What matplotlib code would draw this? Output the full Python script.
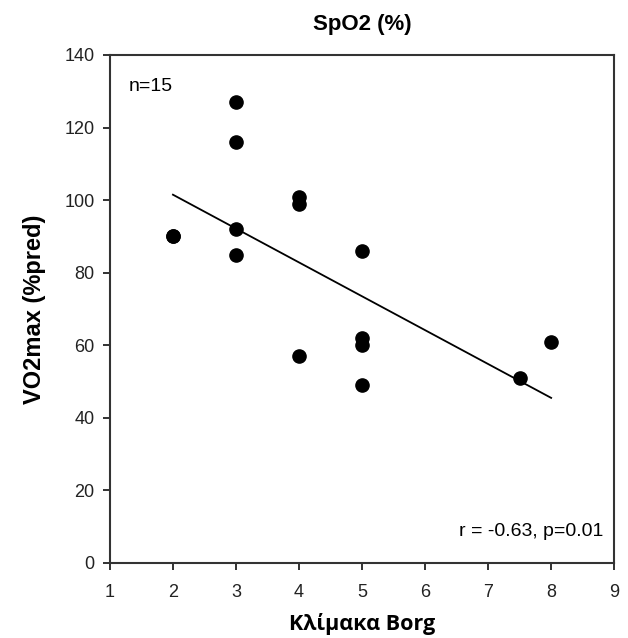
import matplotlib
matplotlib.use("Agg")
import matplotlib.pyplot as plt

# Borg scale vs VO2max (% predicted)
borg = [2, 2, 3, 3, 3, 3, 4, 4, 4, 5, 5, 5, 5, 7.5, 8]
vo2max = [90, 90, 127, 116, 92, 85, 101, 99, 57, 86, 62, 60, 49, 51, 61]

# Regression line end points
fit_x = [2, 8]
fit_y = [101.5, 45.5]

x_ticks = [1, 2, 3, 4, 5, 6, 7, 8, 9]
y_ticks = [0, 20, 40, 60, 80, 100, 120, 140]

plt.rcParams["font.family"] = ["Liberation Sans", "DejaVu Sans"]

fig = plt.figure(figsize=(6.28, 6.38), dpi=100)
ax = fig.add_axes([0.175, 0.1176, 0.803, 0.7962])

ax.plot(fit_x, fit_y, color="black", linewidth=1.3, zorder=2)
ax.plot(borg, vo2max, "o", color="black", markersize=9.5, zorder=3)

ax.set_xlim(1, 9)
ax.set_ylim(0, 140)
ax.set_xticks(x_ticks)
ax.set_yticks(y_ticks)
ax.tick_params(direction="out", length=5, width=1.3, labelsize=13,
               colors="#222222")
ax.tick_params(axis="x", pad=10)
ax.tick_params(axis="y", pad=6)
for s in ax.spines.values():
    s.set_linewidth(1.5)
    s.set_color("#333333")

ax.set_title("SpO2 (%)", fontsize=16, fontweight="bold", pad=18)
ax.set_ylabel("VO2max (%pred)", fontsize=17, fontweight="bold", labelpad=13)
ax.set_xlabel("Κλίμακα Borg", fontsize=15.5, fontweight="bold",
              family=["Open Sans", "DejaVu Sans"], labelpad=9)

ax.text(0.037, 0.955, "n=15", transform=ax.transAxes, fontsize=14,
        ha="left", va="top")
ax.text(0.978, 0.045, "r = -0.63, p=0.01", transform=ax.transAxes,
        fontsize=14, ha="right", va="bottom")

fig.savefig("out.png", dpi=100)
